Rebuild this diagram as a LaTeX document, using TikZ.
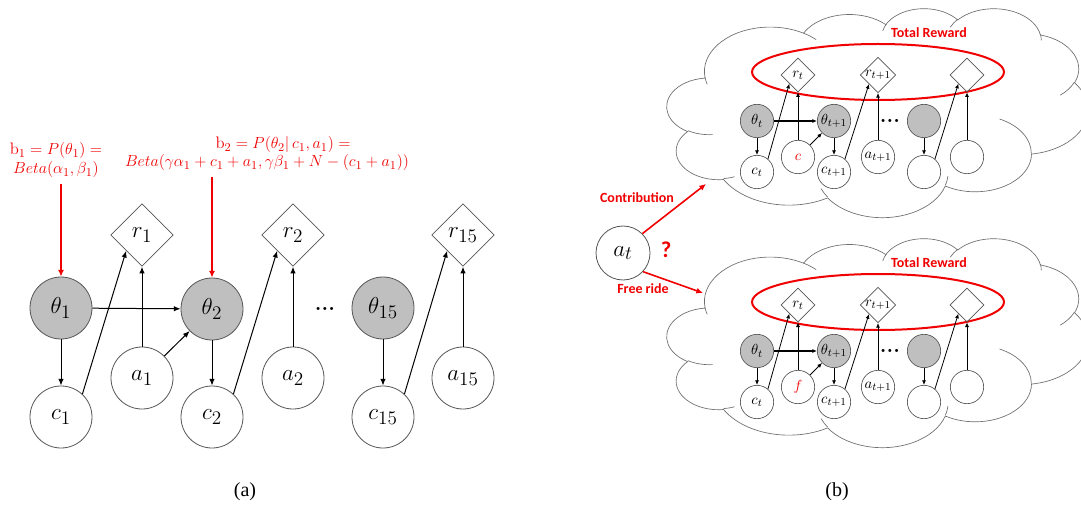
\documentclass[tikz,border=0pt]{standalone}
\usepackage{fontspec}
\newfontfamily\carlito{Carlito}
\newfontfamily\libserif{Liberation Serif}
\usetikzlibrary{shapes.geometric,arrows.meta}
\definecolor{nodegray}{HTML}{BFBFBF}
\definecolor{linegray}{HTML}{555555}
\definecolor{cloudgray}{HTML}{6E6E6E}
\definecolor{pptred}{HTML}{F00000}
% elliptical arc as in DrawingML arcTo: wR, hR, start angle, sweep angle (visual angles)
\newcommand\carc[4]{arc[start angle={atan2(#1*sin(#3),#2*cos(#3))}, delta angle={mod(atan2(#1*sin(#3+#4),#2*cos(#3+#4))-atan2(#1*sin(#3),#2*cos(#3))+720,360)}, x radius=#1, y radius=#2]}
% cloud outline: x0, y0, width, height (pixels)
\newcommand\pptcloud[4]{%
  \pgfmathsetmacro\cux{#3*0.75/4320}%
  \pgfmathsetmacro\cuy{-#4*0.75/4320}%
  \begin{scope}[shift={(#1,#2)},x=\cux pt,y=\cuy pt]
    \draw[cloudline,fill=white] (390,1437)
      \carc{675.3}{919.0}{-190.48748}{123.78053}
      \carc{533.3}{726.7}{-144.10238}{89.94523}
      \carc{436.5}{594.5}{-145.80792}{99.72302}
      \carc{485.7}{659.5}{-130.98607}{117.24173}
      \carc{533.3}{727.3}{-78.70888}{109.02692}
      \carc{677.5}{922.0}{-46.26725}{130.269}
      \carc{578.5}{786.7}{0.62502}{114.03333}
      \carc{675.2}{921.5}{22.4516}{115.17255}
      \carc{772.0}{1054.3}{66.24263}{75.71102}
      \carc{436.0}{591.8}{-274.94208}{146.73557}
      \carc{434.5}{594.5}{-246.8285}{152.51885} -- cycle;
    \draw[cloudline]
      (469.3,2617.7) \carc{434.5}{594.5}{86.742}{26.4295}
      (692.8,3489.9) \carc{436.0}{591.8}{73.61047}{11.44747}
      (1647.8,3909.0) \carc{675.2}{921.5}{137.62415}{14.0811}
      (2882.7,3475.1) \carc{675.2}{921.5}{6.45327}{15.99835}
      (3412.9,2295.4) \carc{578.5}{786.7}{-70.29235}{70.91737}
      (4179.8,1535.4) \carc{533.3}{727.3}{30.31803}{27.7515}
      (3832.4,542.6) \carc{485.7}{659.5}{-13.74433}{14.8589}
      (2907.8,395.2) \carc{485.7}{659.5}{-149.18145}{18.19537}
      (2214.1,472.0) \carc{436.5}{594.5}{-163.49427}{17.68635}
      (1400.0,519.2) \carc{675.3}{919.0}{-66.70695}{12.31935}
      (412.7,1578.9) \carc{675.3}{919.0}{157.65435}{11.85817};
  \end{scope}}
% one cloud panel: prefix, vertical offset, top of cloud, red middle label
\newcommand\cloudpanel[4]{%
  \pptcloud{667}{#3}{421}{209}
  \node[redellipse] (#1ell) at (878,{72+#2}) {};
  \node[redlab] (#1tr) at (929,{33+#2}) {Total Reward};
  \node[smd] (#1rt) at (798,{75+#2}) {$r_t$};
  \node[smd] (#1rtt) at (878,{75+#2}) {$r_{t+1}$};
  \node[smd] (#1rx) at (967,{75+#2}) {};
  \node[smc,shaded] (#1tht) at (757,{121+#2}) {$\theta_t$};
  \node[smc,shaded] (#1thtt) at (834,{121+#2}) {$\theta_{t+1}$};
  \node[smc,shaded] (#1thx) at (924,{121+#2}) {};
  \node[smc] (#1ct) at (757,{172+#2}) {$c_t$};
  \node[smc] (#1act) at (798,{157+#2}) {\textcolor{pptred}{$#4$}};
  \node[smc] (#1ctt) at (834,{172+#2}) {$c_{t+1}$};
  \node[smc] (#1att) at (878,{157+#2}) {$a_{t+1}$};
  \node[smc] (#1cx) at (924,{172+#2}) {};
  \node[smc] (#1ax) at (967,{157+#2}) {};
  \node[dotsn] (#1dots) at (890,{121+#2}) {...};
  \draw[sedge] (#1tht) -- (#1ct);
  \draw[sedge] (#1ct.50) -- (#1rt.south west);
  \draw[sedge] (#1act) -- (#1rt);
  \draw[sedge] (#1act) -- (#1thtt);
  \draw[sedge,line width=0.9pt] (#1tht) -- (#1thtt);
  \draw[sedge] (#1thtt) -- (#1ctt);
  \draw[sedge] (#1ctt.50) -- (#1rtt.south west);
  \draw[sedge] (#1att) -- (#1rtt);
  \draw[sedge] (#1thx) -- (#1cx);
  \draw[sedge] (#1cx.50) -- (#1rx.south west);
  \draw[sedge] (#1ax) -- (#1rx);
}
\begin{document}
\begin{tikzpicture}[x=0.75pt,y=-0.75pt,
  bigc/.style={circle,draw=linegray,line width=0.6pt,minimum size=46.5pt,inner sep=0pt,font=\fontsize{19}{22}\selectfont},
  bigd/.style={diamond,draw=linegray,line width=0.5pt,minimum width=47pt,minimum height=47pt,inner sep=0pt,font=\fontsize{19}{22}\selectfont},
  shaded/.style={fill=nodegray},
  ledge/.style={-{Latex[length=5pt,width=4pt]},line width=0.75pt,black},
  redarrow/.style={-{Latex[length=5pt,width=4.5pt]},line width=1.5pt,pptred},
  smc/.style={circle,draw=linegray,line width=0.5pt,minimum size=25pt,inner sep=0pt,font=\fontsize{11}{13}\selectfont},
  smd/.style={diamond,draw=linegray,line width=0.5pt,minimum width=25.5pt,minimum height=25.5pt,inner sep=0pt,font=\fontsize{11}{13}\selectfont},
  sedge/.style={-{Latex[length=3.5pt,width=3pt]},line width=0.6pt,black},
  redlab/.style={text=pptred,font=\carlito\bfseries\fontsize{10.5}{12}\selectfont,inner sep=1pt},
  formula/.style={text=pptred,font=\fontsize{12.5}{14}\selectfont,inner sep=1pt},
  dotsn/.style={font=\bfseries\fontsize{16}{16}\selectfont,inner sep=0pt},
  cloudline/.style={draw=cloudgray,line width=0.5pt},
  redellipse/.style={ellipse,draw=pptred,line width=1.5pt,minimum width=189pt,minimum height=42pt,inner sep=0pt},
  caption/.style={font=\libserif\fontsize{15}{18}\selectfont}]
\useasboundingbox (0,0) rectangle (1081,513);

% ---------------- panel (a) ----------------
\node[formula] (b1a) at (56,151) {$\mathrm{b}_1 = P(\theta_1) =$};
\node[formula] (b1b) at (56,170) {$Beta(\alpha_1,\beta_1)$};
\node[formula] (b2a) at (283,145) {$\mathrm{b}_2 = P(\theta_2|\,c_1,a_1) =$};
\node[formula] (b2b) at (267,163) {$Beta(\gamma\alpha_1+c_1+a_1,\gamma\beta_1+N-(c_1+a_1))$};
\coordinate (s1) at (61,184);
\coordinate (s2) at (212,177);

\node[bigc,shaded] (th1) at (61,308) {$\theta_1$};
\node[bigc] (c1) at (61,417) {$c_1$};
\node[bigd] (r1) at (142,235) {$r_1$};
\node[bigc] (a1) at (142,378) {$a_1$};
\node[bigc,shaded] (th2) at (212,309) {$\theta_2$};
\node[bigc] (c2) at (212,417) {$c_2$};
\node[bigd] (r2) at (293,235) {$r_2$};
\node[bigc] (a2) at (293,378) {$a_2$};
\node[dotsn] (ldots) at (325,309) {...};
\node[bigc,shaded] (th15) at (383,308) {$\theta_{15}$};
\node[bigc] (c15) at (383,417) {$c_{15}$};
\node[bigd] (r15) at (463,235) {$r_{15}$};
\node[bigc] (a15) at (463,378) {$a_{15}$};

\draw[redarrow] (s1) -- (th1.north);
\draw[redarrow] (s2) -- (th2.north);

\draw[ledge] (th1) -- (c1);
\draw[ledge] (c1.47) -- (r1.south west);
\draw[ledge] (a1) -- (r1);
\draw[ledge] (th1) -- (th2);
\draw[ledge] (a1) -- (th2);
\draw[ledge] (th2) -- (c2);
\draw[ledge] (c2.47) -- (r2.south west);
\draw[ledge] (a2) -- (r2);
\draw[ledge] (th15) -- (c15);
\draw[ledge] (c15.47) -- (r15.south west);
\draw[ledge] (a15) -- (r15);

\node[caption] (capa) at (245,492) {(a)};

% ---------------- panel (b) ----------------
\cloudpanel{u}{0}{8}{c}
\cloudpanel{l}{230}{238}{f}

\node[bigc,minimum size=40.5pt] (at) at (623,253) {$a_t$};
\node[redlab,font=\carlito\bfseries\fontsize{17}{18}\selectfont] (qm) at (666,250) {?};
\node[redlab] (contrib) at (637,198) {Contribution};
\node[redlab] (free) at (643,289) {Free ride};
\coordinate (ce) at (706,184);
\coordinate (fe) at (703,293);
\draw[redarrow,line width=1.2pt] (at.45) -- (ce);
\draw[redarrow,line width=1.2pt] (at.-43) -- (fe);

\node[caption] (capb) at (837,492) {(b)};
\end{tikzpicture}
\end{document}
